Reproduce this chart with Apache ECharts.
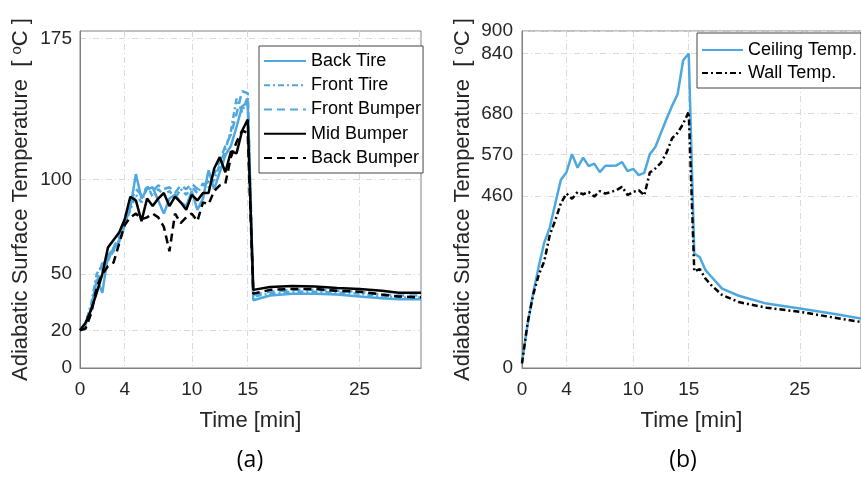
<!DOCTYPE html>
<html>
<head>
<meta charset="utf-8">
<script src="https://cdn.jsdelivr.net/npm/echarts@6/dist/echarts.min.js"></script>
<style>
  html, body { margin: 0; padding: 0; background: #fff; }
  #main { width: 861px; height: 477px; }
</style>
</head>
<body>
<div id="main"></div>
<script>
// panel (a): vehicle surfaces
var timeA = [0, 0.5, 1, 1.5, 2, 2.5, 3, 3.5, 4, 4.5, 5, 5.5, 6, 6.5, 7, 7.5, 8, 8.5, 9, 9.5,
    10, 10.5, 11, 11.5, 12, 12.5, 13, 13.5, 14, 14.5, 15,
    15.5, 17, 19, 21, 23, 25, 27, 28.5, 30.5];
var backTire = [20, 23, 32, 47, 40, 60, 63, 67, 77, 85, 103, 90, 95, 96, 89, 82, 90, 92, 88, 86,
    94, 84, 90, 105, 95, 104, 113, 118, 128, 139, 141,
    36, 38.5, 39.5, 39.5, 39, 38, 37, 36.5, 36.5];
var frontTire = [20, 24, 34, 50, 55, 58, 62, 68, 76, 84, 92, 88, 97, 91, 95, 92, 94, 90, 95, 92,
    96, 93, 98, 96, 100, 108, 116, 126, 143, 136, 144,
    38, 39.5, 40.5, 40.5, 40, 39.5, 38, 37.5, 37.5];
var frontBumper = [20, 22, 30, 45, 56, 57, 64, 70, 78, 88, 95, 92, 96, 94, 97, 95, 96, 93, 97, 95,
    98, 95, 97, 99, 103, 110, 118, 124, 135, 147, 146,
    39, 40.5, 41.5, 41.5, 41, 40.5, 39, 38.5, 38.5];
var midBumper = [20, 24, 31, 40, 50, 64, 68, 72, 79, 91, 89, 78, 90, 86, 90, 93, 86, 91, 88, 84,
    92, 89, 93, 93, 106, 112, 104, 115, 114, 126, 132,
    41.5, 43, 43.5, 43.3, 42.5, 42, 41, 40, 40];
var backBumper = [20, 21, 29, 43, 50, 54, 56, 66, 76, 80, 82, 79, 80, 82, 80, 75, 62, 82, 77, 80,
    82, 78, 88, 87, 94, 97, 98, 112, 120, 126, 125,
    39.5, 41.5, 42, 42, 41, 40.5, 39, 38, 37.5];

// panel (b): ceiling and wall
var timeB = [0, 0.5, 1, 1.5, 2, 2.5, 3, 3.5, 4, 4.5, 5, 5.5, 6, 6.5, 7, 7.5, 8, 8.5, 9, 9.5,
    10, 10.5, 11, 11.5, 12, 12.5, 13, 13.5, 14, 14.5, 15,
    15.5, 16, 16.5, 17, 18, 19.5, 22, 25, 28, 30.5];
var ceilingTemp = [16, 115, 200, 270, 335, 375, 440, 503, 523, 571, 535, 562, 539, 546, 523, 540, 540, 541, 550, 526,
    532, 515, 521, 571, 590, 628, 665, 700, 731, 822, 840,
    305, 296, 262, 245, 212, 193, 172, 159, 145, 132];
var wallTemp = [12, 120, 195, 248, 285, 355, 395, 440, 466, 452, 470, 464, 470, 458, 472, 466, 470, 475, 484, 462,
    470, 475, 461, 522, 533, 548, 575, 613, 628, 652, 684,
    258, 264, 239, 222, 195, 176, 161, 150, 135, 123];

var xTicks = [0, 4, 10, 15, 25];
var yTicksA = [0, 20, 50, 100, 175];
var yTicksB = [0, 460, 570, 680, 840, 900];

var blue = '#4ea8de';
var black = '#000000';
var font = 'Liberation Sans, Arial, sans-serif';

function pairs(t, v) {
    var out = [];
    for (var i = 0; i < t.length; i++) {
        out.push([t[i], v[i]]);
    }
    return out;
}

function makeX(gridIdx) {
    return {
        type: 'value',
        gridIndex: gridIdx,
        min: 0,
        max: 30.5,
        name: 'Time [min]',
        nameLocation: 'middle',
        nameGap: 42,
        nameTextStyle: { fontFamily: font, fontSize: 22, color: '#262626' },
        axisLine: { lineStyle: { color: '#808080', width: 1 } },
        axisTick: { show: false, customValues: xTicks },
        axisLabel: { customValues: xTicks, fontFamily: font, fontSize: 19, color: '#262626', margin: 12 },
        splitLine: { show: true, lineStyle: { color: '#d9d9d9', type: [6, 3, 1, 3], width: 1 } }
    };
}

function makeY(gridIdx, max, ticks, margin) {
    return {
        type: 'value',
        gridIndex: gridIdx,
        min: 0,
        max: max,
        name: 'Adiabatic Surface Temperature  [ {sup|o}C ]',
        nameLocation: 'middle',
        nameGap: 47,
        nameRotate: 90,
        nameTextStyle: {
            fontFamily: font, fontSize: 22, color: '#262626', lineHeight: 24,
            rich: { sup: { fontFamily: font, fontSize: 15, color: '#262626', verticalAlign: 'top', lineHeight: 24 } }
        },
        axisLine: { show: true, lineStyle: { color: '#808080', width: 1 } },
        axisTick: { show: false, customValues: ticks },
        axisLabel: { customValues: ticks, fontFamily: font, fontSize: 19, color: '#262626', margin: margin },
        splitLine: { show: true, lineStyle: { color: '#d9d9d9', type: [6, 3, 1, 3], width: 1 } }
    };
}

function line(name, xi, t, v, color, type) {
    return {
        name: name,
        type: 'line',
        xAxisIndex: xi,
        yAxisIndex: xi,
        data: pairs(t, v),
        symbol: 'none',
        smooth: false,
        lineStyle: { color: color, width: 2.5, type: type },
        itemStyle: { color: color }
    };
}

function legendBox(names, left, top, pad, width, gap) {
    return {
        data: names,
        orient: 'vertical',
        left: left,
        top: top,
        padding: pad,
        itemWidth: width,
        itemHeight: 1,
        itemGap: gap,
        backgroundColor: '#fff',
        borderColor: '#444',
        borderWidth: 1,
        borderRadius: 0,
        itemStyle: { opacity: 0 },
        textStyle: { fontFamily: font, fontSize: 18, color: '#000', lineHeight: 18 }
    };
}

var chart = echarts.init(document.getElementById('main'));

var option = {
    backgroundColor: '#fff',
    animation: false,
    grid: [
        { left: 80, top: 31, width: 341, height: 337, show: true, borderColor: '#808080', borderWidth: 1 },
        { left: 522, top: 31, width: 339, height: 337, show: true, borderColor: '#808080', borderWidth: 1 }
    ],
    xAxis: [makeX(0), makeX(1)],
    yAxis: [makeY(0, 179, yTicksA, 8), makeY(1, 900, yTicksB, 9)],
    legend: [
        legendBox(['Back Tire', 'Front Tire', 'Front Bumper', 'Mid Bumper', 'Back Bumper'], 259, 46, [6, 2, 6, 4], 42, 6.25),
        legendBox(['Ceiling Temp.', 'Wall Temp.'], 697, 33, [8, 4, 6, 4], 41, 5)
    ],
    series: [
        line('Back Tire', 0, timeA, backTire, blue, 'solid'),
        line('Front Tire', 0, timeA, frontTire, blue, [6, 3, 2, 3]),
        line('Front Bumper', 0, timeA, frontBumper, blue, [8, 5]),
        line('Mid Bumper', 0, timeA, midBumper, black, 'solid'),
        line('Back Bumper', 0, timeA, backBumper, black, [8, 5]),
        line('Ceiling Temp.', 1, timeB, ceilingTemp, blue, 'solid'),
        line('Wall Temp.', 1, timeB, wallTemp, black, [6, 3, 2, 3])
    ],
    graphic: [
        {
            type: 'text', x: 250, y: 460,
            style: { text: '(a)', fontFamily: 'Open Sans, sans-serif', fontSize: 23, fill: '#000', textAlign: 'center', textVerticalAlign: 'middle' }
        },
        {
            type: 'text', x: 683, y: 460,
            style: { text: '(b)', fontFamily: 'Open Sans, sans-serif', fontSize: 23, fill: '#000', textAlign: 'center', textVerticalAlign: 'middle' }
        }
    ]
};

chart.setOption(option);
</script>
</body>
</html>
